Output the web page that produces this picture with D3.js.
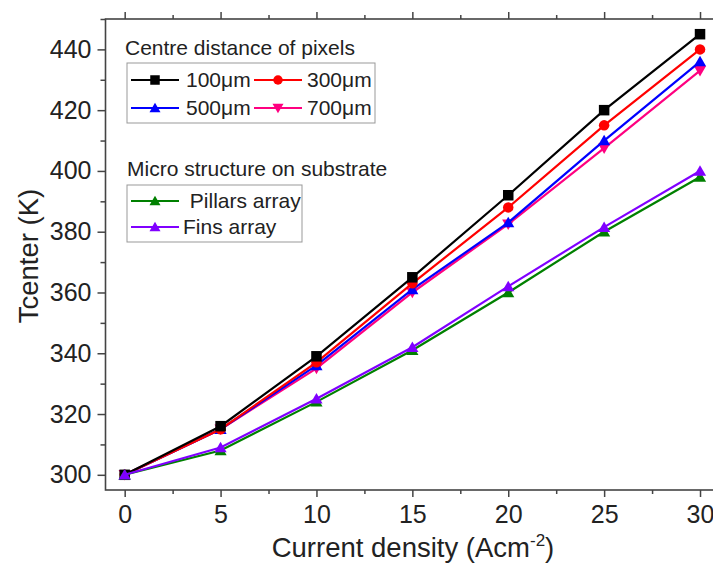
<!DOCTYPE html>
<html lang="en">
<head>
<meta charset="utf-8">
<title>Tcenter vs current density</title>
<script src="https://d3js.org/d3.v7.min.js"></script>
<style>
body { margin: 0; background: #fff; }
text { font-family: Arial, "Liberation Sans", sans-serif; fill: #222; }
</style>
</head>
<body>
<svg id="chart" width="713" height="565"></svg>
<script>
// values
var current = [0, 5, 10, 15, 20, 25, 30]
var d100 = [300, 316, 339, 365, 392, 420, 445]
var d300 = [300, 315, 337, 363, 388, 415, 440]
var d500 = [300, 315, 336, 361, 383, 410, 436]
var d700 = [300, 315, 335, 360, 382.5, 407.5, 433]
var pillars = [300, 308, 324, 341, 360, 380, 398]
var fins = [300, 309, 325, 342, 362, 381.5, 400]

var xTicks = [0, 5, 10, 15, 20, 25, 30]
var xMinor = [2.5, 7.5, 12.5, 17.5, 22.5, 27.5]
var yTicks = [300, 320, 340, 360, 380, 400, 420, 440]
var yMinor = [310, 330, 350, 370, 390, 410, 430, 450]

// series, in drawing order (last on top)
var series = [
	{name: "700\u03bcm", values: d700, color: "#ff0080", marker: "down"},
	{name: "500\u03bcm", values: d500, color: "#0000ff", marker: "up"},
	{name: "300\u03bcm", values: d300, color: "#ff0000", marker: "circle"},
	{name: "100\u03bcm", values: d100, color: "#000000", marker: "square"},
	{name: " Pillars array", values: pillars, color: "#008000", marker: "up"},
	{name: "Fins array", values: fins, color: "#8000ff", marker: "up"}
]

var svg = d3.select("#chart")
var pLeft = 105.5, pRight = 719.2, pTop = 19, pBottom = 490

var x = d3.scaleLinear().domain([-1, 31]).range([pLeft, pRight])
var y = d3.scaleLinear().domain([295, 450]).range([pBottom, pTop])

var axisColor = "#444"

// frame
svg.append("rect")
	.attr("x", pLeft).attr("y", pTop)
	.attr("width", pRight - pLeft).attr("height", pBottom - pTop)
	.attr("fill", "none").attr("stroke", axisColor).attr("stroke-width", 1.6)

function styleAxis(g) {
	g.select(".domain").remove()
	g.selectAll("line").attr("stroke", axisColor).attr("stroke-width", 1.5)
	g.selectAll("text").attr("font-size", 25).attr("fill", "#222")
		.style("font-family", "Arial, 'Liberation Sans', sans-serif")
}

// bottom axis
svg.append("g").attr("transform", "translate(0," + pBottom + ")")
	.call(d3.axisBottom(x).tickValues(xTicks).tickSize(7).tickPadding(8).tickFormat(d3.format("d")))
	.call(styleAxis)
svg.append("g").attr("transform", "translate(0," + pBottom + ")")
	.call(d3.axisBottom(x).tickValues(xMinor).tickSize(4).tickFormat(""))
	.call(styleAxis)

// top axis
svg.append("g").attr("transform", "translate(0," + pTop + ")")
	.call(d3.axisTop(x).tickValues(xTicks).tickSize(7).tickFormat(""))
	.call(styleAxis)
svg.append("g").attr("transform", "translate(0," + pTop + ")")
	.call(d3.axisTop(x).tickValues(xMinor).tickSize(4).tickFormat(""))
	.call(styleAxis)

// left axis
svg.append("g").attr("transform", "translate(" + pLeft + ",0)")
	.call(d3.axisLeft(y).tickValues(yTicks).tickSize(8).tickPadding(6).tickFormat(d3.format("d")))
	.call(styleAxis)
svg.append("g").attr("transform", "translate(" + pLeft + ",0)")
	.call(d3.axisLeft(y).tickValues(yMinor).tickSize(5).tickFormat(""))
	.call(styleAxis)

// axis titles
svg.append("text")
	.attr("transform", "translate(38," + 256 + ") rotate(-90)")
	.attr("text-anchor", "middle")
	.attr("font-size", 27.5)
	.text("Tcenter (K)")

var xt = svg.append("text")
	.attr("x", 413).attr("y", 557)
	.attr("text-anchor", "middle")
	.attr("font-size", 27.5)
xt.append("tspan").text("Current density (Acm")
xt.append("tspan").attr("dy", -11).attr("font-size", 17).text("-2")
xt.append("tspan").attr("dy", 11).text(")")

// marker drawing
function marker(g, type, color, s) {
	if (type == "square") {
		g.append("rect").attr("x", -s / 2).attr("y", -s / 2).attr("width", s).attr("height", s).attr("fill", color)
	} else if (type == "circle") {
		g.append("circle").attr("r", s / 2).attr("fill", color)
	} else if (type == "up") {
		g.append("path").attr("d", "M0," + (-s * 0.55) + "L" + (s * 0.58) + "," + (s * 0.45) + "L" + (-s * 0.58) + "," + (s * 0.45) + "Z").attr("fill", color)
	} else {
		g.append("path").attr("d", "M0," + (s * 0.55) + "L" + (s * 0.58) + "," + (-s * 0.45) + "L" + (-s * 0.58) + "," + (-s * 0.45) + "Z").attr("fill", color)
	}
}

var line = d3.line()
	.x(function(d, i) { return x(current[i]) })
	.y(function(d) { return y(d) })

series.forEach(function(s) {
	svg.append("path")
		.attr("d", line(s.values))
		.attr("fill", "none")
		.attr("stroke", s.color)
		.attr("stroke-width", 2.2)
	s.values.forEach(function(v, i) {
		var g = svg.append("g").attr("transform", "translate(" + x(current[i]) + "," + y(v) + ")")
		marker(g, s.marker, s.color, 10.5)
	})
})

// legends
function legendItem(lx, ly, s, tx) {
	svg.append("line")
		.attr("x1", lx).attr("x2", lx + 48)
		.attr("y1", ly).attr("y2", ly)
		.attr("stroke", s.color).attr("stroke-width", 2.2)
	var g = svg.append("g").attr("transform", "translate(" + (lx + 24) + "," + ly + ")")
	marker(g, s.marker, s.color, 9.5)
	svg.append("text")
		.attr("x", tx).attr("y", ly + 7)
		.attr("font-size", 21)
		.style("white-space", "pre")
		.attr("xml:space", "preserve")
		.text(s.name)
}

svg.append("text").attr("x", 125).attr("y", 55).attr("font-size", 21).text("Centre distance of pixels")
svg.append("rect").attr("x", 127).attr("y", 63).attr("width", 248).attr("height", 60)
	.attr("fill", "none").attr("stroke", "#999").attr("stroke-width", 1)
legendItem(131, 80, series[3], 186)
legendItem(254, 80, series[2], 307)
legendItem(131, 108, series[1], 186)
legendItem(254, 108, series[0], 307)

svg.append("text").attr("x", 127).attr("y", 176).attr("font-size", 21).text("Micro structure on substrate")
svg.append("rect").attr("x", 127).attr("y", 185).attr("width", 175).attr("height", 57)
	.attr("fill", "none").attr("stroke", "#999").attr("stroke-width", 1)
legendItem(131, 201, series[4], 184)
legendItem(131, 227, series[5], 183)
</script>
</body>
</html>
